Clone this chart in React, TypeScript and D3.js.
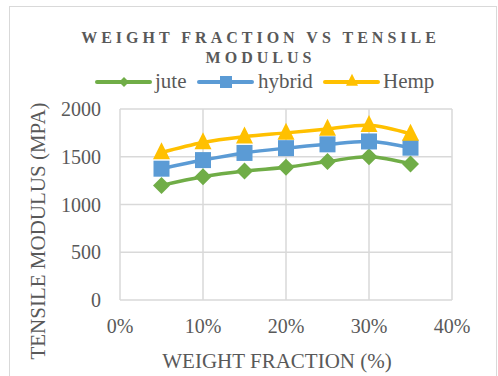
import React from "react";
import * as d3 from "d3";

const fractions = [0.05, 0.1, 0.15, 0.2, 0.25, 0.3, 0.35];
const jute = [1200, 1290, 1350, 1390, 1450, 1500, 1425];
const hybrid = [1375, 1465, 1540, 1590, 1630, 1660, 1595];
const hemp = [1545, 1650, 1710, 1750, 1790, 1830, 1740];
const xTicks = [0, 0.1, 0.2, 0.3, 0.4];
const yTicks = [0, 500, 1000, 1500, 2000];
const seriesNames = ["jute", "hybrid", "Hemp"];
const titleLines = ["WEIGHT FRACTION VS TENSILE", "MODULUS"];
const xTitle = "WEIGHT FRACTION (%)";
const yTitle = "TENSILE MODULUS (MPA)";

const W = 498;
const H = 376;
const TEXT = "#595959";
const GRID = "#D9D9D9";
const FONT = "Liberation Serif, DejaVu Serif, serif";

type Shape = "diamond" | "square" | "triangle";

function Marker({ shape, x, y, s, color }: { shape: Shape; x: number; y: number; s: number; color: string }) {
  if (shape === "diamond") {
    const r = s / 2;
    return <path d={`M${x},${y - r}L${x + r},${y}L${x},${y + r}L${x - r},${y}Z`} fill={color} />;
  }
  if (shape === "square") {
    return <rect x={x - s / 2} y={y - s / 2} width={s} height={s} fill={color} />;
  }
  const h = s;
  return <path d={`M${x},${y - h * 0.6}L${x + s / 2},${y + h * 0.4}L${x - s / 2},${y + h * 0.4}Z`} fill={color} />;
}

export default function App() {
  const x = d3.scaleLinear().domain([0, 0.4]).range([120, 452]);
  const y = d3.scaleLinear().domain([0, 2000]).range([300, 109]);

  const series = [
    { name: seriesNames[0], values: jute, color: "#70AD47", shape: "diamond" as Shape, ms: 17, lms: 10, lx: 97, tx: 155 },
    { name: seriesNames[1], values: hybrid, color: "#5B9BD5", shape: "square" as Shape, ms: 16, lms: 12, lx: 199, tx: 258 },
    { name: seriesNames[2], values: hemp, color: "#FFC000", shape: "triangle" as Shape, ms: 17, lms: 12, lx: 325, tx: 383 },
  ];

  const line = d3
    .line<[number, number]>()
    .x((d) => x(d[0]))
    .y((d) => y(d[1]))
    .curve(d3.curveCatmullRom.alpha(0));

  const ts = { fontFamily: FONT };

  return (
    <svg width={W} height={H} style={{ position: "absolute", left: 0, top: 0, background: "#fff", fontFamily: FONT }}>
      <rect x={9.5} y={6.5} width={487} height={380} fill="#fff" stroke={GRID} strokeWidth={1} />
      {/* title */}
      {titleLines.map((t, i) => (
        <text
          key={i}
          x={260.5}
          y={43 + i * 19.6}
          textAnchor="middle"
          fontSize={16}
          fontWeight="bold"
          letterSpacing={4}
          fill={TEXT}
          style={ts}
        >
          {t}
        </text>
      ))}
      {/* legend */}
      {series.map((s) => (
        <g key={s.name}>
          <line x1={s.lx} x2={s.lx + 53} y1={82} y2={82} stroke={s.color} strokeWidth={4} strokeLinecap="round" />
          <Marker shape={s.shape} x={s.lx + 27} y={s.shape === "triangle" ? 81 : 82} s={s.lms} color={s.color} />
          <text x={s.tx} y={88} fontSize={21} fill={TEXT} style={ts}>
            {s.name}
          </text>
        </g>
      ))}
      {/* gridlines */}
      {yTicks.map((t) => (
        <line key={"gy" + t} x1={x(0)} x2={x(0.4)} y1={y(t)} y2={y(t)} stroke={GRID} strokeWidth={1.5} />
      ))}
      {xTicks.map((t) => (
        <line key={"gx" + t} x1={x(t)} x2={x(t)} y1={y(0)} y2={y(2000)} stroke={GRID} strokeWidth={1.5} />
      ))}
      {/* tick labels */}
      {yTicks.map((t) => (
        <text key={"ty" + t} x={101} y={y(t)} dy="0.35em" textAnchor="end" fontSize={20} fill={TEXT} style={ts}>
          {t}
        </text>
      ))}
      {xTicks.map((t) => (
        <text key={"tx" + t} x={x(t)} y={333} textAnchor="middle" fontSize={20} fill={TEXT} style={ts}>
          {d3.format(".0%")(t)}
        </text>
      ))}
      {/* axis titles */}
      <text x={277} y={368} textAnchor="middle" fontSize={21} fill={TEXT} style={ts}>
        {xTitle}
      </text>
      <text transform="translate(45,231) rotate(-90)" textAnchor="middle" fontSize={21} fill={TEXT} style={ts}>
        {yTitle}
      </text>
      {/* series */}
      {series.map((s) => (
        <g key={"s" + s.name}>
          <path
            d={line(fractions.map((f, i) => [f, s.values[i]] as [number, number])) || ""}
            fill="none"
            stroke={s.color}
            strokeWidth={3.5}
            strokeLinejoin="round"
            strokeLinecap="round"
          />
          {fractions.map((f, i) => (
            <Marker key={i} shape={s.shape} x={x(f)} y={y(s.values[i])} s={s.ms} color={s.color} />
          ))}
        </g>
      ))}
    </svg>
  );
}
